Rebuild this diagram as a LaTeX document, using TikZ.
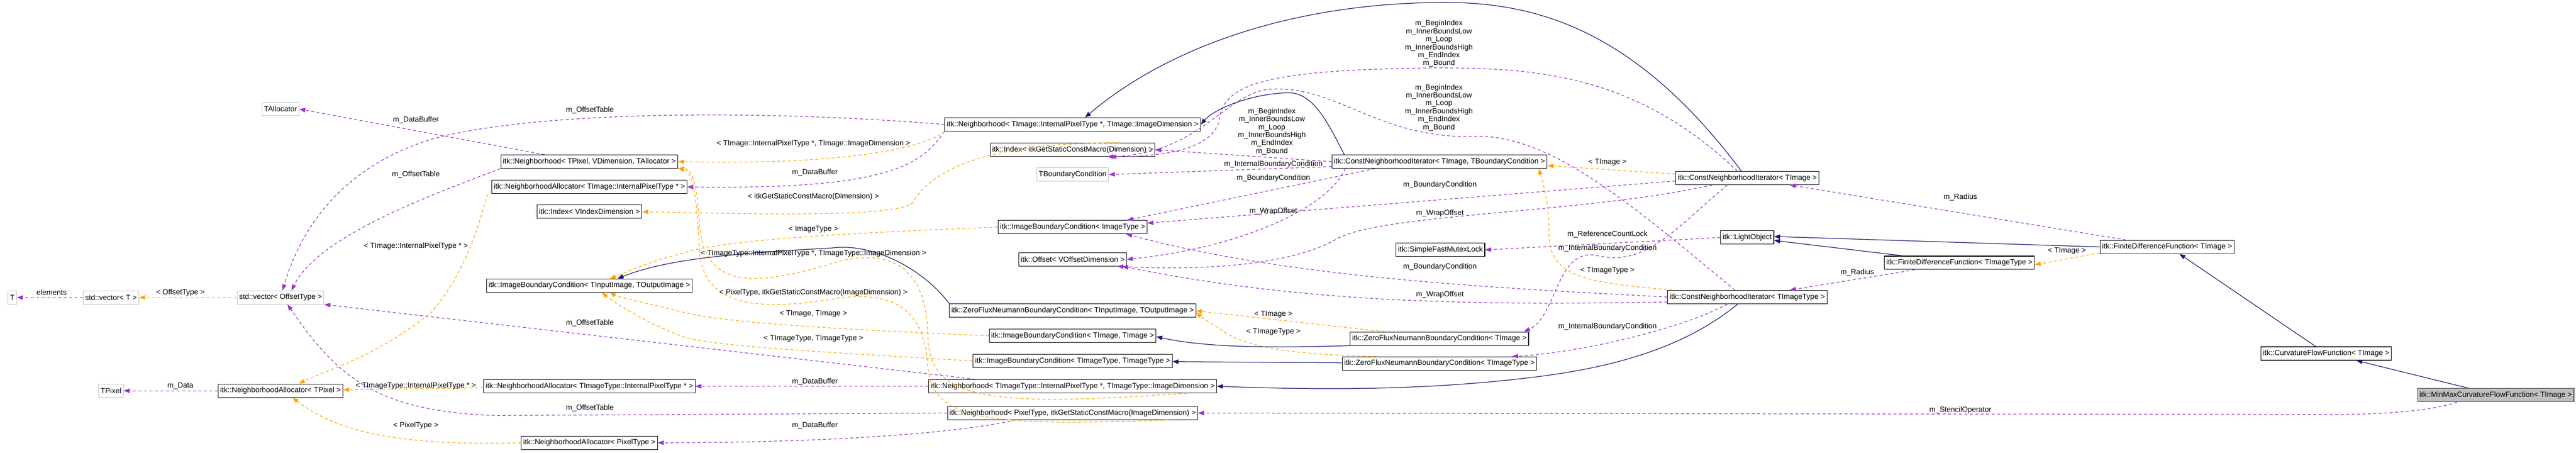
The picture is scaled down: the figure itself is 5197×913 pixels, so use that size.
\documentclass[tikz,border=0pt]{standalone}
\usepackage{fontspec}
\setmainfont{Liberation Sans}
\usepackage{xcolor}
\definecolor{usepurple}{RGB}{154, 50, 205}
\definecolor{tmplorange}{RGB}{255, 165, 0}
\definecolor{inhnavy}{RGB}{25, 25, 112}
\definecolor{undocgray}{RGB}{191, 191, 191}
\usetikzlibrary{arrows.meta, positioning}

\begin{document}
\begin{tikzpicture}[
        x=1pt, y=-1pt,
        every node/.style={font=\fontsize{15}{17}\selectfont},
        box/.style={rectangle, draw=black, line width=1.2pt, fill=white, inner xsep=4pt, inner ysep=0pt, minimum height=27pt},
        ghost/.style={box, draw=undocgray},
        lbl/.style={inner sep=1pt, align=center},
        use/.style={line width=1.3pt, dash pattern=on 6pt off 5pt, color=usepurple, ->, >={Triangle[length=12pt,width=9pt]}},
        inst/.style={use, color=tmplorange},
        inh/.style={line width=1.3pt, color=inhnavy, ->, >={Triangle[length=12pt,width=9pt]}}
    ]
        \useasboundingbox (0,0) rectangle (5197,913);

        % left columns
        \node[ghost] (T) at (25,600) {T};
        \node[ghost] (vecT) at (224,600) {std::vector< T >};
        \node[ghost] (vecOff) at (566,600) {std::vector< OffsetType >};
        \node[ghost] (TPixel) at (224,788) {TPixel};
        \node[box] (allocTPixel) at (566,788) {itk::NeighborhoodAllocator< TPixel >};
        \node[ghost] (TAllocator) at (566,220) {TAllocator};

        \node[box] (nbhTPixel) at (1189,326) {itk::Neighborhood< TPixel, VDimension, TAllocator >};
        \node[box] (allocTImg) at (1189,377) {itk::NeighborhoodAllocator< TImage::InternalPixelType * >};
        \node[box] (idxV) at (1189,427) {itk::Index< VIndexDimension >};
        \node[box] (ibcTIO) at (1189,576) {itk::ImageBoundaryCondition< TInputImage, TOutputImage >};
        \node[box] (allocTImgT) at (1189,779) {itk::NeighborhoodAllocator< TImageType::InternalPixelType * >};
        \node[box] (allocPix) at (1189,893) {itk::NeighborhoodAllocator< PixelType >};

        \node[box] (nbhTImg) at (2164,251) {itk::Neighborhood< TImage::InternalPixelType *, TImage::ImageDimension >};
        \node[box] (idxDim) at (2164,302) {itk::Index< itkGetStaticConstMacro(Dimension) >};
        \node[ghost] (TBC) at (2164,352) {TBoundaryCondition};
        \node[box] (ibcImg) at (2164,458) {itk::ImageBoundaryCondition< ImageType >};
        \node[box] (offV) at (2164,523) {itk::Offset< VOffsetDimension >};
        \node[box] (zfTIO) at (2164,626) {itk::ZeroFluxNeumannBoundaryCondition< TInputImage, TOutputImage >};
        \node[box] (ibcTT) at (2164,677) {itk::ImageBoundaryCondition< TImage, TImage >};
        \node[box] (ibcTTT) at (2164,728) {itk::ImageBoundaryCondition< TImageType, TImageType >};
        \node[box] (nbhTImgT) at (2164,779) {itk::Neighborhood< TImageType::InternalPixelType *, TImageType::ImageDimension >};
        \node[box] (nbhPix) at (2164,833) {itk::Neighborhood< PixelType, itkGetStaticConstMacro(ImageDimension) >};

        % iterators and functions
        \node[box] (cniTBC) at (2904,326) {itk::ConstNeighborhoodIterator< TImage, TBoundaryCondition >};
        \node[box] (mutex) at (2906,504) {itk::SimpleFastMutexLock};
        \node[box] (zfT) at (2904,683) {itk::ZeroFluxNeumannBoundaryCondition< TImage >};
        \node[box] (zfTT) at (2904,733) {itk::ZeroFluxNeumannBoundaryCondition< TImageType >};
        \node[box] (cniT) at (3525,359) {itk::ConstNeighborhoodIterator< TImage >};
        \node[box] (light) at (3525,479) {itk::LightObject};
        \node[box] (cniTT) at (3525,599) {itk::ConstNeighborhoodIterator< TImageType >};
        \node[box] (fdfTT) at (3953,530) {itk::FiniteDifferenceFunction< TImageType >};
        \node[box] (fdfT) at (4372,498) {itk::FiniteDifferenceFunction< TImage >};
        \node[box] (cff) at (4693,713) {itk::CurvatureFlowFunction< TImage >};
        \node[box, fill=undocgray, draw=black!70] (minmax) at (5035,797) {itk::MinMaxCurvatureFlowFunction< TImage >};

        % member links
        \draw[use] (vecT) -- (T);
        \draw[use] (allocTPixel) -- (TPixel);
        \draw[use] ([xshift=-90pt]nbhTPixel.north) -- (TAllocator.east);
        \draw[use] (nbhTPixel.south west) .. controls (850,400) and (640,480) .. ([xshift=22pt]vecOff.north);
        \draw[use] (nbhTImg.west) .. controls (1550,222) and (1100,222) .. (880,278) .. controls (700,330) and (610,450) .. ([xshift=4pt]vecOff.north);
        \draw[use] ([xshift=95pt]nbhTImgT.north west) -- (vecOff.south east);
        \draw[use] (nbhPix.west) -- (1000,838) .. controls (760,830) and (680,760) .. ([xshift=14pt]vecOff.south);
        \draw[use] (nbhTImg.south west) .. controls (1860,330) and (1800,383) .. (allocTImg.east);
        \draw[use] (nbhTImgT) -- (allocTImgT);
        \draw[use] ([xshift=-115pt]nbhPix.south) .. controls (1900,880) and (1600,893) .. (allocPix.east);
        \draw[use] (cniTBC.west) -- (idxDim.east);
        \draw[use] ([xshift=-20pt]cniT.north) .. controls (3300,150) and (3100,137) .. (2900,137) .. controls (2550,140) and (2470,170) .. (2460,240) .. controls (2450,300) and (2350,316) .. ([xshift=76pt]idxDim.south);
        \draw[use] ([xshift=-25pt]cniTT.north) .. controls (3300,420) and (3140,280) .. (2990,275) .. controls (2780,285) and (2700,170) .. (2560,180) .. controls (2470,190) and (2420,310) .. ([xshift=70pt]idxDim.south);
        \draw[use] ([yshift=-10pt]cniTBC.west) -- (TBC.east);
        \draw[use] ([xshift=-130pt]cniTBC.south) -- ([xshift=110pt]ibcImg.north);
        \draw[use] ([yshift=-6pt]cniT.west) -- ([yshift=8pt]ibcImg.east);
        \draw[use] (cniTT.west) .. controls (3000,580) and (2600,560) .. ([xshift=108pt]ibcImg.south);
        \draw[use] ([xshift=-190pt]cniTBC.south) .. controls (2680,420) and (2500,500) .. (offV.east);
        \draw[use] ([xshift=-70pt]cniT.south) .. controls (3200,430) and (2800,430) .. (2700,480) .. controls (2600,540) and (2400,545) .. ([xshift=90pt]offV.south);
        \draw[use] ([yshift=-10pt]cniTT.west) .. controls (3000,615) and (2650,615) .. ([xshift=100pt]offV.south);
        \draw[use] (light.west) -- (mutex.east);
        \draw[use] ([xshift=-40pt]cniT.south) .. controls (3380,460) and (3320,540) .. (3220,515) .. controls (3140,500) and (3140,640) .. ([xshift=-10pt]zfT.north east);
        \draw[use] ([xshift=-40pt]cniTT.south) .. controls (3400,660) and (3200,710) .. ([xshift=-50pt]zfTT.north east);
        \draw[use] ([xshift=-90pt]fdfTT.south) -- ([xshift=86pt]cniTT.north);
        \draw[use] ([xshift=-83pt]fdfT.north) -- ([xshift=86pt]cniT.south);
        \draw[use] ([xshift=-78pt]minmax.south) .. controls (4900,830) and (4800,836) .. (4700,836) -- (nbhPix.east);

        % template instances
        \draw[inst] (vecOff) -- (vecT);
        \draw[inst] ([xshift=-8pt]allocTImg.south west) .. controls (960,480) and (930,560) .. (870,630) .. controls (760,720) and (650,750) .. ([xshift=37pt]allocTPixel.north);
        \draw[inst] (allocTImgT) -- (allocTPixel);
        \draw[inst] (allocPix.west) .. controls (800,900) and (680,870) .. ([xshift=24pt]allocTPixel.south);
        \draw[inst] ([xshift=1pt]nbhTImg.south west) .. controls (1860,300) and (1700,333) .. (nbhTPixel.east);
        \draw[inst] ([xshift=-60pt]nbhTImgT.south east) .. controls (2000,820) and (1875,810) .. (1872,680) .. controls (1870,520) and (1780,510) .. (1700,525) .. controls (1550,570) and (1420,600) .. (1411,450) .. controls (1405,360) and (1395,340) .. (nbhTPixel.south east);
        \draw[inst] ([xshift=-60pt]nbhPix.south east) .. controls (2000,860) and (1880,850) .. (1872,740) .. controls (1865,620) and (1800,590) .. (1700,600) .. controls (1550,625) and (1415,630) .. (1411,500) .. controls (1405,380) and (1395,345) .. (nbhTPixel.south east);
        \draw[inst] ([xshift=-70pt]idxDim.north east) .. controls (1950,287) and (1870,360) .. (1840,410) .. controls (1800,440) and (1500,431) .. (idxV.east);
        \draw[inst] (ibcImg.west) .. controls (1700,470) and (1450,485) .. (1380,510) .. controls (1300,530) and (1250,555) .. ([xshift=41pt]ibcTIO.north);
        \draw[inst] (ibcTT.west) .. controls (1700,665) and (1450,650) .. (1380,630) .. controls (1300,610) and (1250,600) .. ([xshift=41pt]ibcTIO.south);
        \draw[inst] (ibcTTT.west) .. controls (1700,712) and (1450,700) .. (1380,680) .. controls (1300,650) and (1240,610) .. ([xshift=25pt]ibcTIO.south);
        \draw[inst] ([yshift=8pt]cniT.west) -- ([yshift=-8pt]cniTBC.east);
        \draw[inst] ([xshift=10pt]cniTT.north west) .. controls (3200,570) and (3125,560) .. (3125,470) .. controls (3125,400) and (3110,360) .. ([xshift=-17pt]cniTBC.south east);
        \draw[inst] ([xshift=70pt]zfT.north west) -- ([yshift=-1pt]zfTIO.east);
        \draw[inst] ([xshift=70pt]zfTT.north west) .. controls (2600,715) and (2520,700) .. (2470,670) .. controls (2450,655) and (2430,645) .. ([yshift=-4pt]zfTIO.east);
        \draw[inst] ([yshift=-12pt]fdfT.west) -- ([yshift=-4pt]fdfTT.east);

        % inheritance
        \draw[inh] (zfTIO.north west) .. controls (1860,540) and (1760,490) .. (1680,500) .. controls (1500,510) and (1350,520) .. ([xshift=57pt]ibcTIO.north);
        \draw[inh] (zfT.south west) .. controls (2620,700) and (2450,705) .. ([yshift=-2pt]ibcTT.east);
        \draw[inh] (zfTT) -- (ibcTTT);
        \draw[inh] ([xshift=-192pt]cniTBC.north) .. controls (2680,250) and (2650,185) .. (2597,187) .. controls (2520,190) and (2450,220) .. (nbhTImg.east);
        \draw[inh] ([xshift=-12pt]cniT.north) .. controls (3300,60) and (3100,5) .. (2916,5) .. controls (2600,5) and (2350,100) .. ([xshift=25pt]nbhTImg.north);
        \draw[inh] ([xshift=-19pt]cniTT.south) .. controls (3400,700) and (3260,740) .. (3100,760) .. controls (2900,785) and (2700,788) .. (nbhTImgT.east);
        \draw[inh] ([xshift=-114pt]fdfTT.north) -- ([yshift=-6pt]light.east);
        \draw[inh] (fdfT.west) -- ([yshift=2pt]light.east);
        \draw[inh] ([xshift=-21pt]cff.north) -- ([xshift=25pt]fdfT.south);
        \draw[inh] ([xshift=-55pt]minmax.north) -- ([xshift=61pt]cff.south);

        % labels
        \node[lbl] (lElem) at (104,590) {elements};
        \node[lbl] (lData) at (364,778) {m\_Data};
        \node[lbl] (lOffType) at (364,590) {< OffsetType >};
        \node[lbl] (lBufA) at (839,242) {m\_DataBuffer};
        \node[lbl] (lTabA) at (839,352) {m\_OffsetTable};
        \node[lbl] (lIPT) at (839,497) {< TImage::InternalPixelType * >};
        \node[lbl] (lIPTT) at (839,778) {< TImageType::InternalPixelType * >};
        \node[lbl] (lPix) at (839,858) {< PixelType >};
        \node[lbl] (lTabB) at (1190,222) {m\_OffsetTable};
        \node[lbl] (lTabC) at (1190,651) {m\_OffsetTable};
        \node[lbl] (lTabD) at (1190,823) {m\_OffsetTable};
        \node[lbl] (lNbhA) at (1641,290) {< TImage::InternalPixelType *, TImage::ImageDimension >};
        \node[lbl] (lBufB) at (1644,348) {m\_DataBuffer};
        \node[lbl] (lIdx) at (1641,397) {< itkGetStaticConstMacro(Dimension) >};
        \node[lbl] (lImgT) at (1641,463) {< ImageType >};
        \node[lbl] (lNbhB) at (1641,511) {< TImageType::InternalPixelType *, TImageType::ImageDimension >};
        \node[lbl] (lNbhC) at (1641,590) {< PixelType, itkGetStaticConstMacro(ImageDimension) >};
        \node[lbl] (lTT) at (1641,633) {< TImage, TImage >};
        \node[lbl] (lTTT) at (1641,683) {< TImageType, TImageType >};
        \node[lbl] (lBufC) at (1644,770) {m\_DataBuffer};
        \node[lbl] (lBufD) at (1644,858) {m\_DataBuffer};
        \node[lbl, font=\fontsize{15}{16}\selectfont] (lIdxA) at (2566,265) {m\_BeginIndex\\m\_InnerBoundsLow\\m\_Loop\\m\_InnerBoundsHigh\\m\_EndIndex\\m\_Bound};
        \node[lbl, font=\fontsize{15}{16}\selectfont] (lIdxB) at (2903,88) {m\_BeginIndex\\m\_InnerBoundsLow\\m\_Loop\\m\_InnerBoundsHigh\\m\_EndIndex\\m\_Bound};
        \node[lbl, font=\fontsize{15}{16}\selectfont] (lIdxC) at (2903,217) {m\_BeginIndex\\m\_InnerBoundsLow\\m\_Loop\\m\_InnerBoundsHigh\\m\_EndIndex\\m\_Bound};
        \node[lbl] (lIBC) at (2569,331) {m\_InternalBoundaryCondition};
        \node[lbl] (lBCA) at (2569,359) {m\_BoundaryCondition};
        \node[lbl] (lWrapA) at (2569,426) {m\_WrapOffset};
        \node[lbl] (lBCB) at (2905,373) {m\_BoundaryCondition};
        \node[lbl] (lWrapB) at (2905,430) {m\_WrapOffset};
        \node[lbl] (lBCC) at (2905,538) {m\_BoundaryCondition};
        \node[lbl] (lWrapC) at (2905,594) {m\_WrapOffset};
        \node[lbl] (lZfA) at (2569,634) {< TImage >};
        \node[lbl] (lZfB) at (2569,669) {< TImageType >};
        \node[lbl] (lCniA) at (3243,327) {< TImage >};
        \node[lbl] (lLock) at (3243,473) {m\_ReferenceCountLock};
        \node[lbl] (lIBCB) at (3243,501) {m\_InternalBoundaryCondition};
        \node[lbl] (lCniB) at (3243,546) {< TImageType >};
        \node[lbl] (lIBCC) at (3243,659) {m\_InternalBoundaryCondition};
        \node[lbl] (lRadA) at (3955,398) {m\_Radius};
        \node[lbl] (lRadB) at (3747,550) {m\_Radius};
        \node[lbl] (lFdf) at (4170,506) {< TImage >};
        \node[lbl] (lSten) at (3955,827) {m\_StencilOperator};
\end{tikzpicture}
\end{document}
